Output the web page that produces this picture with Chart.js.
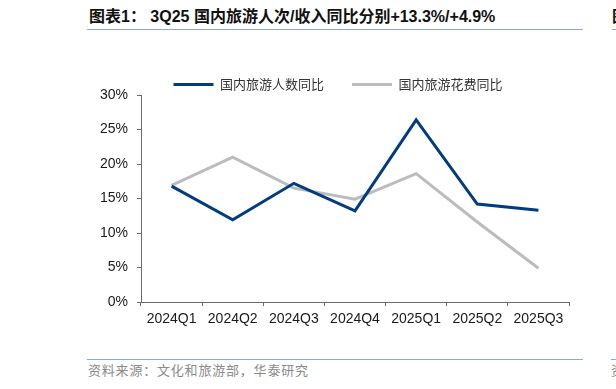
<!DOCTYPE html>
<html>
<head>
<meta charset="utf-8">
<script src="https://cdn.jsdelivr.net/npm/chart.js@4/dist/chart.umd.min.js"></script>
<style>
  html, body { margin: 0; padding: 0; background: #fff; }
  body { width: 616px; height: 389px; position: relative; overflow: hidden; }
  .title {
    position: absolute; left: 89px; top: 7px; white-space: nowrap;
    font: bold 16px "Liberation Sans", "Noto Sans CJK SC", sans-serif;
    color: #111; line-height: 19px;
  }
  .rule { position: absolute; height: 1px; background: #8fa8c8; }
  .source {
    position: absolute; left: 88px; top: 362px; white-space: nowrap;
    font: 13px "Noto Sans CJK SC", sans-serif; letter-spacing: 0.8px;
    color: #8a8a8a; line-height: 16px;
  }
  #wrap { position: absolute; left: 0; top: 0; width: 616px; height: 389px; }
</style>
</head>
<body>
<div class="title">图表1： 3Q25 国内旅游人次/收入同比分别+13.3%/+4.9%</div>
<div class="title" style="left:612px;">图</div>
<div class="rule" style="left:87px; top:29px; width:496px;"></div>
<div class="rule" style="left:612px; top:29px; width:4px;"></div>
<div class="rule" style="left:87px; top:359px; width:496px;"></div>
<div class="rule" style="left:611px; top:359px; width:5px;"></div>
<div class="source">资料来源：文化和旅游部，华泰研究</div>
<div class="source" style="left:611px;">资</div>
<div id="wrap"><canvas id="chart"></canvas></div>

<script>
/* =========================
   DATA
========================= */
const quarters = ["2024Q1", "2024Q2", "2024Q3", "2024Q4", "2025Q1", "2025Q2", "2025Q3"];
const tripsYoY = [16.8, 11.9, 17.2, 13.2, 26.4, 14.2, 13.3];   // 国内旅游人数同比 (%)
const spendYoY = [16.9, 21.0, 16.5, 14.9, 18.6, 11.6, 4.9];    // 国内旅游花费同比 (%)
const yTicks = [0, 5, 10, 15, 20, 25, 30];

const BLUE = "#003c7e";
const GREY = "#bcbcbc";
const AXIS = "#6b6b6b";

/* legend sits a bit left of the plot centre in the original */
const legendPlace = {
  id: "legendPlace",
  afterLayout(chart) {
    const lg = chart.legend;
    const dx = 338 - (lg.left + lg.right) / 2;
    lg.left += dx; lg.right += dx;
    lg.top += 6; lg.bottom += 6;
  },
};

new Chart(document.getElementById("chart"), {
  type: "line",
  data: {
    labels: quarters,
    datasets: [
      {
        label: "国内旅游人数同比",
        data: tripsYoY,
        borderColor: BLUE,
        backgroundColor: BLUE,
        borderWidth: 3,
        pointRadius: 0,
        pointStyle: "line",
        tension: 0,
      },
      {
        label: "国内旅游花费同比",
        data: spendYoY,
        borderColor: GREY,
        backgroundColor: GREY,
        borderWidth: 3,
        pointRadius: 0,
        pointStyle: "line",
        tension: 0,
      },
    ],
  },
  options: {
    responsive: true,
    maintainAspectRatio: false,
    animation: false,
    layout: { padding: { top: 44, right: 47, bottom: 54, left: 0 } },
    plugins: {
      tooltip: { enabled: false },
      legend: {
        position: "top",
        labels: {
          usePointStyle: true,
          pointStyleWidth: 40,
          boxHeight: 3,
          padding: 28,
          color: "#333",
          font: { family: "'Noto Sans CJK SC', sans-serif", size: 13 },
        },
      },
    },
    scales: {
      x: {
        offset: true,
        grid: { display: true, offset: true, drawOnChartArea: false, tickLength: 4, color: AXIS },
        border: { display: true, color: AXIS, width: 1 },
        ticks: {
          color: "#1a1a1a",
          padding: 5,
          maxRotation: 0,
          font: { family: "'Liberation Sans', Arial, sans-serif", size: 14 },
        },
        afterFit(scale) { scale.height = 33; },
      },
      y: {
        min: 0,
        max: 30,
        afterBuildTicks(scale) { scale.ticks = yTicks.map((v) => ({ value: v })); },
        grid: { display: true, drawOnChartArea: false, tickLength: 4, color: AXIS },
        border: { display: true, color: AXIS, width: 1 },
        ticks: {
          color: "#1a1a1a",
          padding: 9,
          font: { family: "'Liberation Sans', Arial, sans-serif", size: 14 },
          callback: (v) => v + "%",
        },
        afterFit(scale) { scale.width = 141; },
      },
    },
  },
  plugins: [legendPlace],
});
</script>
</body>
</html>
